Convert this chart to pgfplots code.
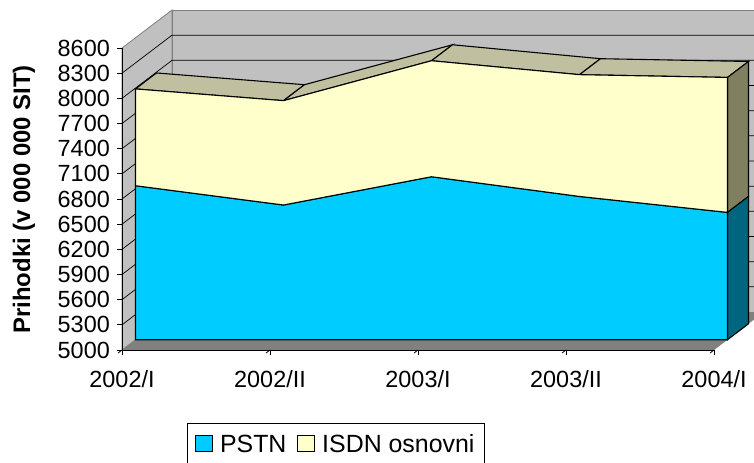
\documentclass[border=0pt]{standalone}
\usepackage{pgfplots}
\pgfplotsset{compat=1.18}
\usepackage{fontspec}
\setmainfont{Liberation Sans}
\definecolor{pstn}{HTML}{00CCFF}
\definecolor{pstnside}{HTML}{006680}
\definecolor{isdn}{HTML}{FFFFCC}
\definecolor{isdntop}{HTML}{C0C0A0}
\definecolor{isdnside}{HTML}{808060}
\definecolor{wallc}{HTML}{C0C0C0}
\definecolor{floorc}{HTML}{808080}
\begin{document}
\begin{tikzpicture}
\useasboundingbox (-122bp,-113bp) rectangle (632bp,350bp);
\begin{axis}[
  at={(0,0)}, anchor=south west,
  x={(148bp,0bp)}, y={(50bp,38bp)}, z={(0bp,0.083889bp)},
  xmin=0, xmax=4, ymin=0, ymax=1, zmin=5000, zmax=8600,
  axis x line*=left, axis z line*=left, axis y line=none,
  axis on top,
  clip=false,
  axis line style={black, line width=0.8bp},
  xtick={0,1,2,3,4},
  xticklabels={2002/I,2002/II,2003/I,2003/II,2004/I},
  ytick=\empty,
  ztick=\empty,
  tick align=outside,
  major tick length=5bp,
  tick style={black, line width=0.8bp},
  xticklabel style={font=\fontsize{23.5}{27}\selectfont, xshift=10bp, yshift=-14bp},
  legend style={at={(axis description cs:0.101,-0.215)}, anchor=north west,
    draw=black, line width=0.8bp, font=\fontsize{25}{29}\selectfont,
    inner xsep=8bp, inner ysep=9bp,
    /tikz/every odd column/.append style={column sep=5bp},
    /tikz/every even column/.append style={column sep=9bp}},
  legend columns=2,
  legend image code/.code={\draw[#1,draw=black,line width=0.8bp] (0bp,-7bp) rectangle (17bp,9bp);},
]
% walls and floor
\fill[wallc, draw=gray, line width=0.8bp] (axis cs:0,0,5000) -- (axis cs:0,1,5000) -- (axis cs:0,1,8600) -- (axis cs:0,0,8600) -- cycle;
\fill[wallc, draw=gray, line width=0.8bp] (axis cs:0,1,5000) -- (axis cs:4,1,5000) -- (axis cs:4,1,8600) -- (axis cs:0,1,8600) -- cycle;
\fill[floorc] (axis cs:0,0,5000) -- (axis cs:4,0,5000) -- (axis cs:4,1,5000) -- (axis cs:0,1,5000) -- cycle;
\pgfplotsinvokeforeach{5300,5600,5900,6200,6500,6800,7100,7400,7700,8000,8300}{
  \draw[black, line width=0.7bp] (axis cs:0,0,#1) -- (axis cs:0,1,#1) -- (axis cs:4,1,#1);
}
% value axis ticks and labels
\pgfplotsinvokeforeach{5000,5300,5600,5900,6200,6500,6800,7100,7400,7700,8000,8300,8600}{
  \draw[black, line width=0.8bp] (axis cs:0,0,#1) -- ++(-5bp,0bp);
  \node[anchor=east, inner sep=0pt, xshift=-12bp, font=\fontsize{23.5}{27}\selectfont] at (axis cs:0,0,#1) {#1};
}
% ISDN top face
\addplot3[forget plot, fill=isdntop, draw=black, line width=1.1bp] coordinates {(0,0.27,7990) (1,0.27,7850) (1,0.69,7850) (0,0.69,7990)} -- cycle;
\addplot3[forget plot, fill=isdntop, draw=black, line width=1.1bp] coordinates {(1,0.27,7850) (2,0.27,8326) (2,0.69,8326) (1,0.69,7850)} -- cycle;
\addplot3[forget plot, fill=isdntop, draw=black, line width=1.1bp] coordinates {(2,0.27,8326) (3,0.27,8160) (3,0.69,8160) (2,0.69,8326)} -- cycle;
\addplot3[forget plot, fill=isdntop, draw=black, line width=1.1bp] coordinates {(3,0.27,8160) (4,0.27,8127) (4,0.69,8127) (3,0.69,8160)} -- cycle;
% right side faces
\addplot3[forget plot, fill=isdnside, draw=black, line width=1.1bp] coordinates {(4,0.27,6518) (4,0.69,6518) (4,0.69,8127) (4,0.27,8127)} -- cycle;
\addplot3[forget plot, fill=pstnside, draw=black, line width=1.1bp] coordinates {(4,0.27,5000) (4,0.69,5000) (4,0.69,6518) (4,0.27,6518)} -- cycle;
% front faces
\addplot3[forget plot, fill=pstn, draw=black, line width=1.1bp] coordinates {(0,0.27,5000) (0,0.27,6836) (1,0.27,6606) (2,0.27,6943) (3,0.27,6708) (4,0.27,6518) (4,0.27,5000)} -- cycle;
\addplot3[forget plot, fill=isdn, draw=black, line width=1.1bp] coordinates {(0,0.27,6836) (1,0.27,6606) (2,0.27,6943) (3,0.27,6708) (4,0.27,6518) (4,0.27,8127) (3,0.27,8160) (2,0.27,8326) (1,0.27,7850) (0,0.27,7990)} -- cycle;
\addlegendimage{fill=pstn}
\addlegendentry{PSTN}
\addlegendimage{fill=isdn}
\addlegendentry{ISDN osnovni}
\end{axis}
\node[rotate=90, font=\bfseries\fontsize{24}{28}\selectfont] at (-98bp,150.5bp) {Prihodki (v 000 000 SIT)};
\end{tikzpicture}
\end{document}
